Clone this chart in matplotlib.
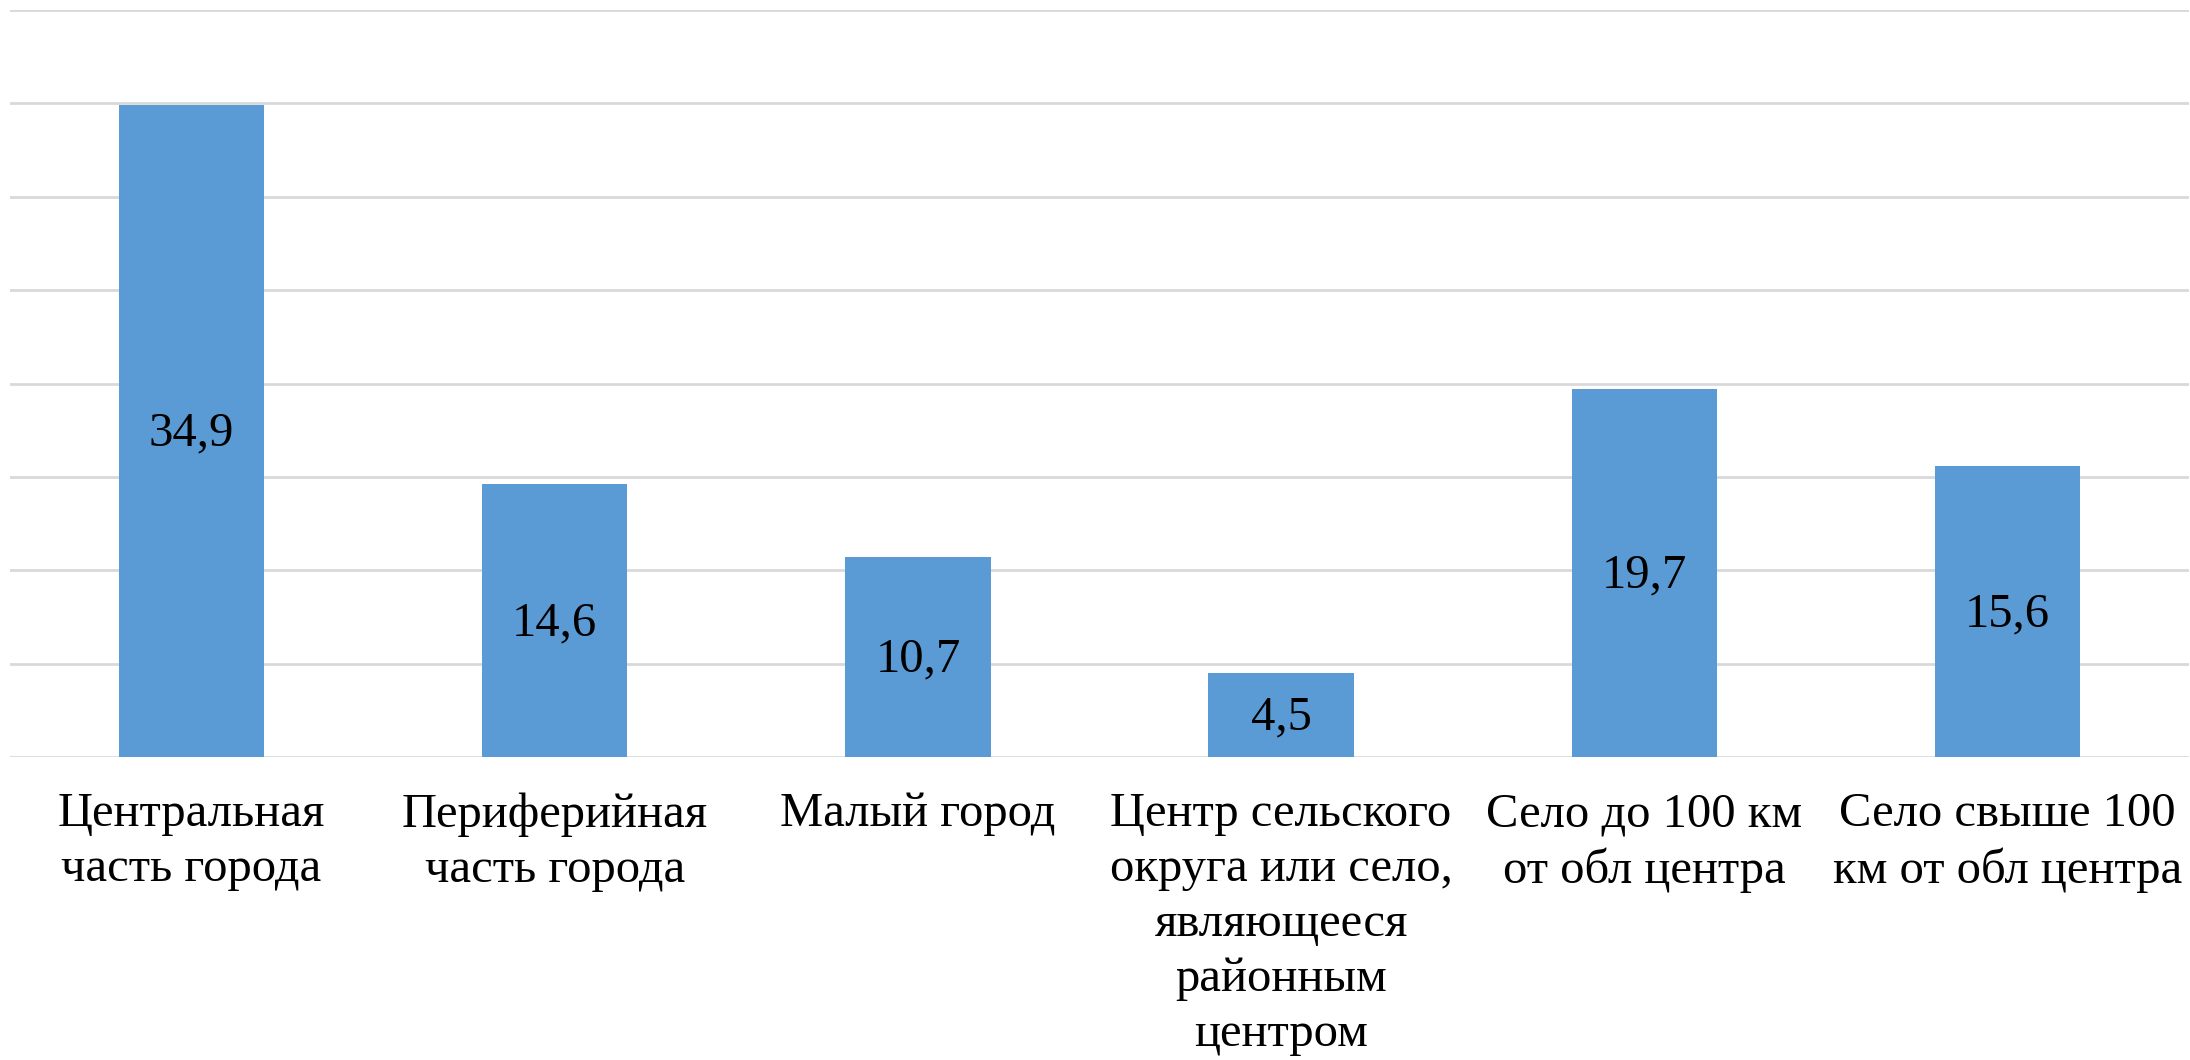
import matplotlib
matplotlib.use("Agg")
import matplotlib.pyplot as plt
import numpy as np

categories = [
    "Центральная\nчасть города",
    "Периферийная\nчасть города",
    "Малый город",
    "Центр сельского\nокруга или село,\nявляющееся\nрайонным\nцентром",
    "Село до 100 км\nот обл центра",
    "Село свыше 100\nкм от обл центра",
]
values = [34.9, 14.6, 10.7, 4.5, 19.7, 15.6]
y_ticks = [0, 5, 10, 15, 20, 25, 30, 35, 40]

plt.rcParams["font.family"] = ["Liberation Serif", "DejaVu Serif"]

fig = plt.figure(figsize=(21.9, 10.6), dpi=100)
ax = fig.add_axes([10 / 2190, 1 - 757 / 1060, 2179 / 2190, 747 / 1060])

x = np.arange(len(categories))
bars = ax.bar(x, values, width=0.4, color="#5b9bd5", zorder=3)

for b, v in zip(bars, values):
    ax.text(b.get_x() + b.get_width() / 2, v / 2 - 0.15, f"{v:.1f}".replace(".", ","),
            ha="center", va="center", fontsize=35, color="black", zorder=4)

ax.set_xlim(-0.5, len(categories) - 0.5)
ax.set_ylim(0, 40)
ax.set_yticks(y_ticks)
ax.yaxis.grid(True, color="#d9d9d9", linewidth=2)
ax.set_axisbelow(True)
ax.tick_params(axis="y", left=False, labelleft=False)
ax.tick_params(axis="x", bottom=False, pad=22)
ax.set_xticks(x)
ax.set_xticklabels(categories, fontsize=35, linespacing=1.32, va="top")
for s in ax.spines.values():
    s.set_visible(False)

fig.savefig("out.png", dpi=100)
plt.close(fig)
